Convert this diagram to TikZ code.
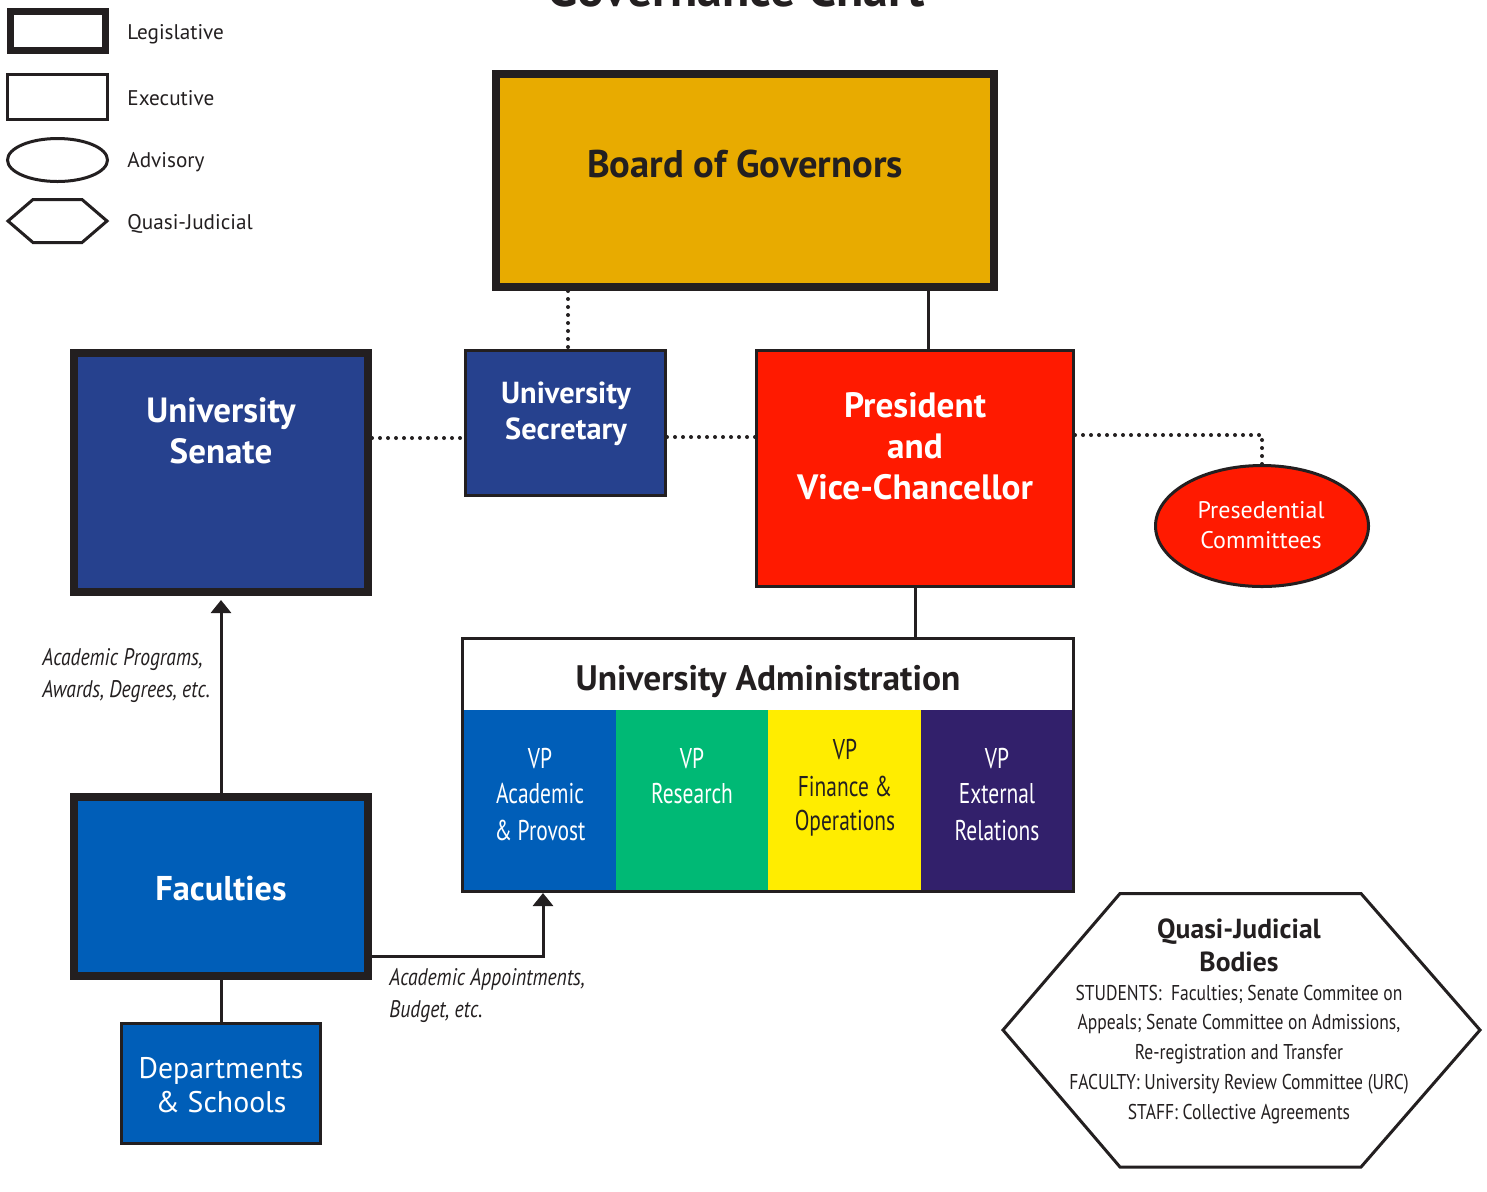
\documentclass[tikz,border=0pt]{standalone}
\usepackage{fontspec}
\setmainfont{PT Sans}
\newfontfamily\condfont[FakeStretch=0.82]{PT Sans}
\newfontfamily\narrowfont[FakeStretch=0.75]{PT Sans}
\usetikzlibrary{arrows.meta,shapes.geometric}
\definecolor{ink}{HTML}{231F20}
\definecolor{gold}{HTML}{E8AB00}
\definecolor{navy}{HTML}{26418E}
\definecolor{redA}{HTML}{FF1A00}
\definecolor{blueA}{HTML}{005EB8}
\definecolor{greenA}{HTML}{00B975}
\definecolor{yellowA}{HTML}{FFED00}
\definecolor{purpleA}{HTML}{32206B}
\newcommand\fsz[2]{\fontsize{#1}{#2}\selectfont}
\begin{document}
\begin{tikzpicture}[x=0.5pt,y=-0.5pt,
  legis/.style={draw=ink, line width=4pt, rectangle, inner sep=0pt},
  execbox/.style={draw=ink, line width=1.5pt, rectangle, inner sep=0pt},
  advis/.style={draw=ink, line width=1.5pt, ellipse, inner sep=0pt},
  colbox/.style={rectangle, inner sep=0pt, draw=none},
  solidline/.style={draw=ink, line width=1.5pt},
  dotline/.style={draw=ink, line width=2pt, line cap=round, dash pattern=on 0pt off 4pt},
  arrowline/.style={draw=ink, line width=1.5pt, -{Triangle[width=10pt,length=6.5pt]}},
  txt/.style={inner sep=0pt, anchor=base},
  ltxt/.style={inner sep=0pt, anchor=base west},
  legfont/.style={font=\fsz{10.6}{12}, text=ink},
  boldw/.style={font=\bfseries\fsz{17.5}{20}, text=white},
  vpw/.style={font=\narrowfont\fsz{14.3}{17}, text=white},
  vpd/.style={font=\narrowfont\fsz{14.3}{17}, text=ink},
  itl/.style={font=\condfont\itshape\fsz{12}{14}, text=ink},
  qjb/.style={font=\condfont\fsz{10.7}{13}, text=ink}
]
\useasboundingbox (0,0) rectangle (1487,1191);
\fill[white] (0,0) rectangle (1487,1191);

% title (mostly cut off at top)
\node[txt, font=\bfseries\fsz{25}{28}, text=ink] (title) at (736,6) {Governance Chart};

% legend
\node[legis, line width=3.5pt, minimum width=47.5pt, minimum height=19.5pt] (lgL) at (57.5,30.5) {};
\node[execbox, minimum width=50pt, minimum height=22.5pt] (lgE) at (57.5,97) {};
\node[advis, minimum width=50pt, minimum height=21.5pt] (lgA) at (57.5,160) {};
\draw[draw=ink, line width=1.5pt] (33,199.5) -- (82,199.5) -- (107,221) -- (82,242.5) -- (33,242.5) -- (8,221) -- cycle;
\node[ltxt, legfont] (lgLt) at (127,39) {Legislative};
\node[ltxt, legfont] (lgEt) at (127,105) {Executive};
\node[ltxt, legfont] (lgAt) at (127,167) {Advisory};
\node[ltxt, legfont] (lgQt) at (127,229) {Quasi-Judicial};

% boxes
\node[legis, fill=gold, minimum width=249pt, minimum height=106.5pt] (bog) at (745,180.5) {};
\node[legis, fill=navy, minimum width=147pt, minimum height=119.5pt] (senate) at (221,472.5) {};
\node[execbox, fill=navy, minimum width=100pt, minimum height=72.5pt] (sec) at (565.5,423) {};
\node[execbox, fill=redA, minimum width=158.5pt, minimum height=118pt] (pres) at (915,468.5) {};
\node[advis, fill=redA, minimum width=106.5pt, minimum height=60.5pt] (pc) at (1262,526) {};

\node[colbox, fill=blueA, minimum width=76pt, minimum height=90pt] (vpa) at (540,800) {};
\node[colbox, fill=greenA, minimum width=76pt, minimum height=90pt] (vpr) at (692,800) {};
\node[colbox, fill=yellowA, minimum width=76.5pt, minimum height=90pt] (vpf) at (844.5,800) {};
\node[colbox, fill=purpleA, minimum width=75.5pt, minimum height=90pt] (vpe) at (996.5,800) {};
\node[execbox, minimum width=305.5pt, minimum height=126.5pt] (admin) at (768,765) {};

\node[legis, fill=blueA, minimum width=147pt, minimum height=89.5pt] (fac) at (221,886.5) {};
\node[execbox, fill=blueA, minimum width=99.5pt, minimum height=60pt] (dept) at (221,1083.5) {};

% quasi-judicial hexagon
\draw[draw=ink, line width=1.5pt] (1120,893.5) -- (1361,893.5) -- (1480,1030) -- (1361,1167) -- (1120,1167) -- (1003,1030) -- cycle;

% connectors
\coordinate (admBot) at (543,893);
\draw[dotline] (bog.south -| 568,0) -- (sec.north -| 568,0);
\draw[solidline] (bog.south -| 928,0) -- (pres.north -| 928,0);
\draw[dotline] (senate.east |- 0,438) -- (sec.west |- 0,438);
\draw[dotline] (sec.east |- 0,437) -- (pres.west |- 0,437);
\draw[dotline] (pres.east |- 0,435) -| (pc.north);
\draw[solidline] (pres.south) -- (admin.north -| pres.south);
\draw[arrowline] (fac.north) -- ([yshift=-2pt]senate.south);
\draw[arrowline] (fac.east |- 0,956) -| (admBot);
\draw[solidline] (fac.south) -- (dept.north);

% texts
\node[txt, font=\bfseries\fsz{19.3}{23}, text=ink] (bogT) at (745,177) {Board of Governors};
\node[txt, boldw] (senT1) at (221,422) {University};
\node[txt, boldw] (senT2) at (221,463) {Senate};
\node[txt, font=\bfseries\fsz{15.2}{17}, text=white] (secT1) at (566,403) {University};
\node[txt, font=\bfseries\fsz{15.2}{17}, text=white] (secT2) at (566,439) {Secretary};
\node[txt, font=\bfseries\fsz{17.6}{21}, text=white] (presT1) at (915,417) {President};
\node[txt, font=\bfseries\fsz{17.6}{21}, text=white] (presT2) at (915,458) {and};
\node[txt, font=\bfseries\fsz{17.6}{21}, text=white] (presT3) at (915,499) {Vice-Chancellor};
\node[txt, font=\fsz{12}{15}, text=white] (pcT1) at (1261,518) {Presedential};
\node[txt, font=\fsz{12}{15}, text=white] (pcT2) at (1261,548) {Committees};
\node[txt, font=\bfseries\fsz{17.7}{20}, text=ink] (admT) at (768,690) {University Administration};

\node[txt, vpw] (vpaT1) at (540,768) {VP};
\node[txt, vpw] (vpaT2) at (540,803) {Academic};
\node[txt, vpw] (vpaT3) at (540,840) {\& Provost};
\node[txt, vpw] (vprT1) at (692,768) {VP};
\node[txt, vpw] (vprT2) at (692,803) {Research};
\node[txt, vpd] (vpfT1) at (845,759) {VP};
\node[txt, vpd] (vpfT2) at (845,796) {Finance \&};
\node[txt, vpd] (vpfT3) at (845,830) {Operations};
\node[txt, vpw] (vpeT1) at (997,768) {VP};
\node[txt, vpw] (vpeT2) at (997,803) {External};
\node[txt, vpw] (vpeT3) at (997,840) {Relations};

\node[txt, font=\bfseries\fsz{17.2}{20}, text=white] (facT) at (221,900) {Faculties};
\node[txt, font=\fsz{14.9}{17}, text=white] (deptT1) at (221,1078) {Departments};
\node[txt, font=\fsz{14.9}{17}, text=white] (deptT2) at (221,1112) {\& Schools};

\node[ltxt, itl] (lab1a) at (42,665) {Academic Programs,};
\node[ltxt, itl] (lab1b) at (42,697) {Awards, Degrees, etc.};
\node[ltxt, itl] (lab2a) at (389,985) {Academic Appointments,};
\node[ltxt, itl] (lab2b) at (389,1017) {Budget, etc.};

\node[txt, font=\bfseries\fsz{13.8}{16}, text=ink] (qjT1) at (1239,938) {Quasi-Judicial};
\node[txt, font=\bfseries\fsz{13.8}{16}, text=ink] (qjT2) at (1239,971) {Bodies};
\node[txt, qjb] (qjT3) at (1239,1000) {STUDENTS:\ \ Faculties; Senate Commitee on};
\node[txt, qjb] (qjT4) at (1239,1029) {Appeals; Senate Committee on Admissions,};
\node[txt, qjb] (qjT5) at (1239,1059) {Re-registration and Transfer};
\node[txt, qjb] (qjT6) at (1239,1089) {FACULTY: University Review Committee (URC)};
\node[txt, qjb] (qjT7) at (1239,1119) {STAFF: Collective Agreements};
\end{tikzpicture}
\end{document}
